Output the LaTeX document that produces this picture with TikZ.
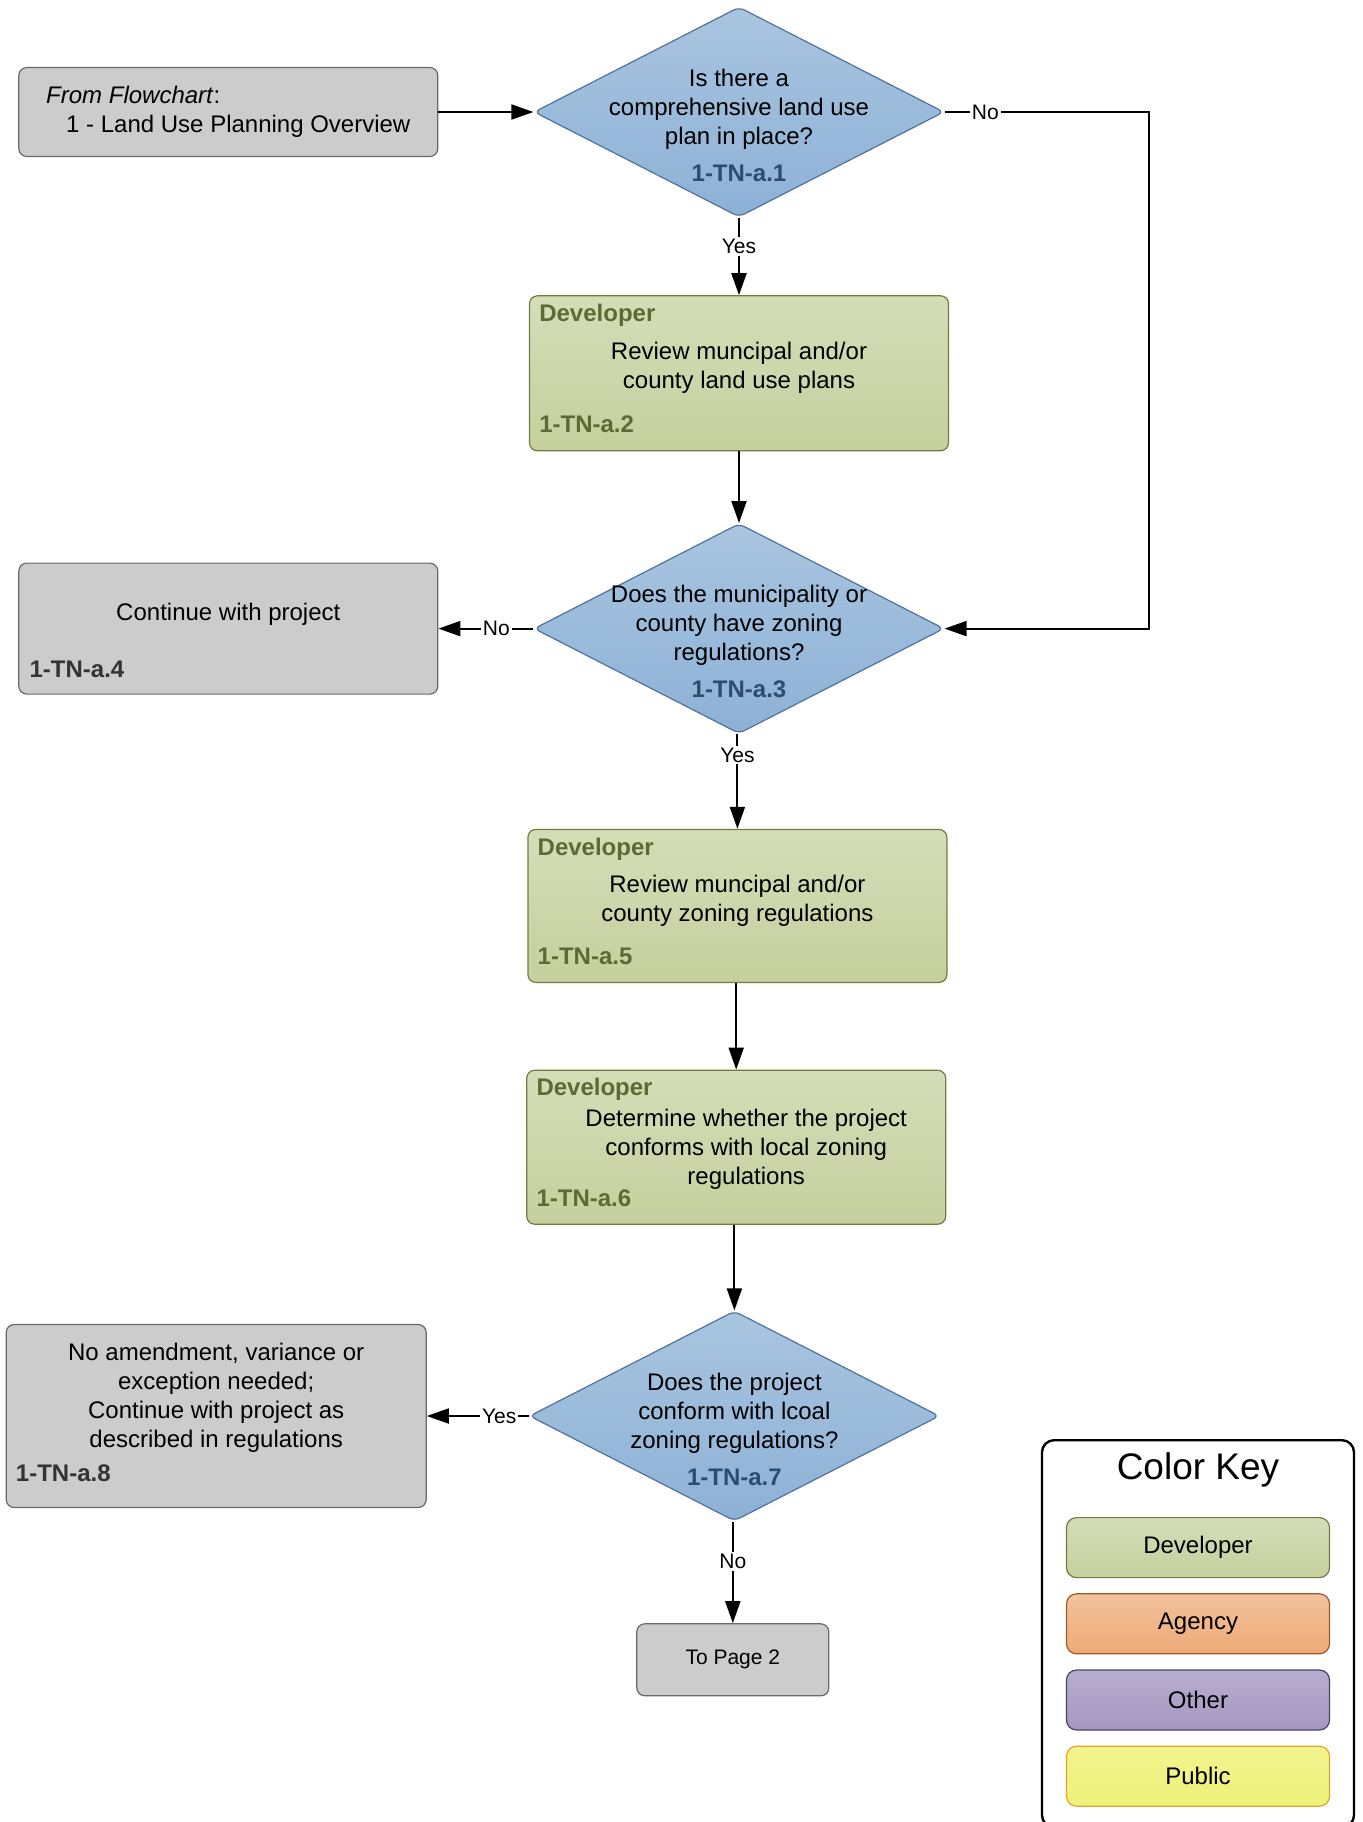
\documentclass[tikz,border=0pt]{standalone}
\usepackage{fontspec}
\setmainfont{Liberation Sans}
\usetikzlibrary{arrows.meta, positioning, shapes.geometric}

\definecolor{decisiontop}{HTML}{A9C5E0}
\definecolor{decisionbot}{HTML}{8DB1D6}
\definecolor{decisionline}{HTML}{4F739C}
\definecolor{decisionid}{HTML}{2D4C6E}
\definecolor{devtop}{HTML}{D5DDB8}
\definecolor{devbot}{HTML}{C6CF9D}
\definecolor{devline}{HTML}{6F7D40}
\definecolor{devid}{HTML}{5E6A33}
\definecolor{greyfill}{HTML}{CCCCCC}
\definecolor{greyline}{HTML}{6A6A6A}
\definecolor{greyid}{HTML}{333333}
\definecolor{agencytop}{HTML}{F2C29D}
\definecolor{agencybot}{HTML}{EEAA76}
\definecolor{agencyline}{HTML}{9A5A2C}
\definecolor{othertop}{HTML}{B8ADCF}
\definecolor{otherbot}{HTML}{A697C0}
\definecolor{otherline}{HTML}{4C4068}
\definecolor{publictop}{HTML}{F3F38E}
\definecolor{publicbot}{HTML}{EDF27A}
\definecolor{publicline}{HTML}{E0A526}

\tikzstyle{body} = [font=\fontsize{12pt}{14.5pt}\selectfont, align=center, inner sep=0pt]
\tikzstyle{tag} = [font=\fontsize{12pt}{14.5pt}\selectfont\bfseries, inner sep=0pt, anchor=west]
\tikzstyle{box} = [rectangle, rounded corners=4pt, minimum width=209.5pt, line width=0.6pt]
\tikzstyle{grey box} = [draw=greyline, fill=greyfill, box]
\tikzstyle{dev box} = [draw=devline, top color=devtop, bottom color=devbot, box]
\tikzstyle{decision} = [diamond, draw=decisionline, top color=decisiontop, bottom color=decisionbot, line width=0.6pt, minimum width=205pt, minimum height=105pt, inner sep=0pt, rounded corners=3pt]
\tikzstyle{flow} = [-{Triangle[length=11pt, width=7.5pt]}, line width=1pt]
\tikzstyle{answer} = [font=\fontsize{10.5pt}{12pt}\selectfont, fill=white, inner sep=1pt]
\tikzstyle{key item} = [rectangle, rounded corners=5pt, minimum width=131.5pt, minimum height=30pt, line width=0.6pt, font=\fontsize{12pt}{14.5pt}\selectfont]

\begin{document}
\begin{tikzpicture}
    \useasboundingbox (0pt, 0pt) rectangle (681pt, -911pt);

    % Nodes.

    % Main column.
    \node (q1) [decision] at (369.5pt, -56pt) {};
    \node (dev1) [dev box, minimum height=77.5pt, below=38.8pt of q1] {};
    \node (q2) [decision, below=35.8pt of dev1] {};
    \node (dev2) [dev box, minimum height=76.5pt, below=47.3pt of q2, xshift=-0.8pt] {};
    \node (dev3) [dev box, minimum height=77pt, below=43.3pt of dev2, xshift=-0.6pt] {};
    \node (q3) [decision, below=42.8pt of dev3, xshift=-0.9pt] {};
    \node (page2) [grey box, minimum width=96pt, minimum height=36pt, below=50.8pt of q3, xshift=-0.8pt,
        font=\fontsize{10.5pt}{12pt}\selectfont] {To Page 2};

    % Side boxes.
    \node (start) [grey box, minimum height=44.5pt, left=47.5pt of q1, body, align=left] {%
        \textit{From Flowchart}:\\\hspace*{10pt}1 - Land Use Planning Overview};
    \node (cont) [grey box, minimum height=65.5pt, left=47.5pt of q2] {};
    \node (done) [grey box, minimum width=210pt, minimum height=91.5pt, left=51pt of q3] {};

    % Questions.
    \node (q1 text) [body] at ([yshift=1.5pt]q1.center) {Is there a\\comprehensive land use\\plan in place?};
    \node (q1 id) [tag, anchor=center, text=decisionid] at ([yshift=-30.5pt]q1.center) {1-TN-a.1};
    \node (q2 text) [body] at ([yshift=1.5pt]q2.center) {Does the municipality or\\county have zoning\\regulations?};
    \node (q2 id) [tag, anchor=center, text=decisionid] at ([yshift=-30.5pt]q2.center) {1-TN-a.3};
    \node (q3 text) [body] at ([yshift=1.5pt]q3.center) {Does the project\\conform with lcoal\\zoning regulations?};
    \node (q3 id) [tag, anchor=center, text=decisionid] at ([yshift=-30.5pt]q3.center) {1-TN-a.7};

    % Developer tasks.
    \node (dev1 role) [tag, text=devid] at ([shift={(5pt,-10pt)}]dev1.north west) {Developer};
    \node (dev1 text) [body] at ([yshift=2.75pt]dev1.center) {Review muncipal and/or\\county land use plans};
    \node (dev1 id) [tag, text=devid] at ([shift={(5pt,13.5pt)}]dev1.south west) {1-TN-a.2};
    \node (dev2 role) [tag, text=devid] at ([shift={(5pt,-10pt)}]dev2.north west) {Developer};
    \node (dev2 text) [body] at ([yshift=2.75pt]dev2.center) {Review muncipal and/or\\county zoning regulations};
    \node (dev2 id) [tag, text=devid] at ([shift={(5pt,13.5pt)}]dev2.south west) {1-TN-a.5};
    \node (dev3 role) [tag, text=devid] at ([shift={(5pt,-10pt)}]dev3.north west) {Developer};
    \node (dev3 text) [body] at ([shift={(5pt,-1pt)}]dev3.center) {Determine whether the project\\conforms with local zoning\\regulations};
    \node (dev3 id) [tag, text=devid] at ([shift={(5pt,13.5pt)}]dev3.south west) {1-TN-a.6};

    % Other tasks.
    \node (cont text) [body] at ([yshift=7pt]cont.center) {Continue with project};
    \node (cont id) [tag, text=greyid] at ([shift={(5.5pt,12.75pt)}]cont.south west) {1-TN-a.4};
    \node (done text) [body] at ([yshift=9pt]done.center) {No amendment, variance or\\exception needed;\\Continue with project as\\described in regulations};
    \node (done id) [tag, text=greyid] at ([shift={(5pt,17.25pt)}]done.south west) {1-TN-a.8};

    % Color key.
    \node (key frame) [draw, line width=1.2pt, rounded corners=6pt, minimum width=156pt, minimum height=193.5pt, anchor=north] at (599pt, -719.5pt) {};
    \node (key title) [font=\fontsize{18.5pt}{22pt}\selectfont] at (599pt, -735pt) {Color Key};
    \node (key dev) [key item, draw=devline, top color=devtop, bottom color=devbot, anchor=north] at (599pt, -758.5pt) {Developer};
    \node (key agency) [key item, draw=agencyline, top color=agencytop, bottom color=agencybot, below=7.5pt of key dev] {Agency};
    \node (key other) [key item, draw=otherline, top color=othertop, bottom color=otherbot, below=7.5pt of key agency] {Other};
    \node (key public) [key item, draw=publicline, top color=publictop, bottom color=publicbot, below=7.5pt of key other] {Public};

    % Arrows.
    \draw [flow] (start.east |- q1) -- (q1);
    \draw [flow] (q1) -- node [answer, pos=0.37] {Yes} (dev1);
    \draw [flow] (q1.east) -- node [answer, pos=0.2] {No} ++(102pt, 0) |- (q2.east);
    \draw [flow] (dev1) -- (q2);
    \draw [flow] (q2) -- node [answer, pos=0.39] {No} (cont);
    \draw [flow] (q2.south -| dev2) -- node [answer, pos=0.22] {Yes} (dev2);
    \draw [flow] (dev2.south -| dev3) -- (dev3);
    \draw [flow] (dev3.south -| q3) -- (q3);
    \draw [flow] (q3) -- node [answer, pos=0.29] {Yes} (done);
    \draw [flow] (q3.south -| page2) -- node [answer, pos=0.39] {No} (page2);
\end{tikzpicture}
\end{document}
